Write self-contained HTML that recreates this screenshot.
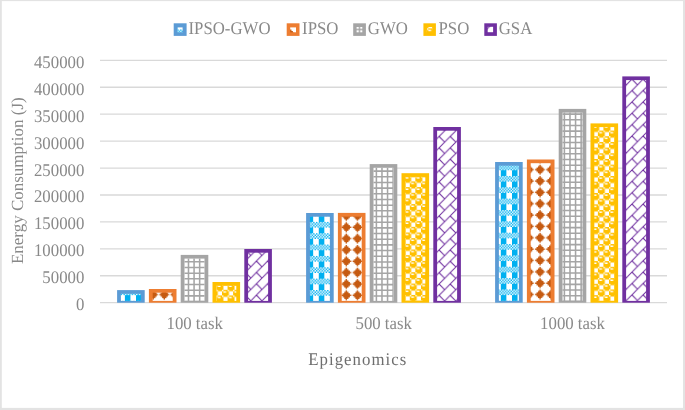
<!DOCTYPE html>
<html lang="en"><head><meta charset="utf-8"><title>Epigenomics energy consumption</title>
<style>html,body{margin:0;padding:0;background:#fff}svg{display:block}text{font-family:"Liberation Serif",serif;font-size:16.8px;text-rendering:geometricPrecision;fill:#898989}</style></head><body>
<svg width="685" height="410" viewBox="0 0 685 410">
<defs>
<pattern id="plaid" width="8" height="8" patternUnits="userSpaceOnUse" patternTransform="scale(1.395 1.4187)"><rect width="8" height="8" fill="#fff"/><g fill="#00B0F0"><rect x="0" y="0" width="1" height="1"/><rect x="2" y="0" width="1" height="1"/><rect x="4" y="0" width="1" height="1"/><rect x="6" y="0" width="1" height="1"/><rect x="1" y="1" width="1" height="1"/><rect x="3" y="1" width="1" height="1"/><rect x="5" y="1" width="1" height="1"/><rect x="7" y="1" width="1" height="1"/><rect x="0" y="2" width="1" height="1"/><rect x="2" y="2" width="1" height="1"/><rect x="4" y="2" width="1" height="1"/><rect x="6" y="2" width="1" height="1"/><rect x="1" y="3" width="1" height="1"/><rect x="3" y="3" width="1" height="1"/><rect x="5" y="3" width="1" height="1"/><rect x="7" y="3" width="1" height="1"/><rect x="0" y="4" width="4" height="4"/></g></pattern>
<pattern id="diamond" width="8" height="8" patternUnits="userSpaceOnUse" patternTransform="scale(1.395 1.4187)"><rect width="8" height="8" fill="#fff"/><path d="M4 0L4 1L5 1L5 2L6 2L6 3L7 3L7 4L6 4L6 5L5 5L5 6L4 6L4 7L3 7L3 6L2 6L2 5L1 5L1 4L0 4L0 3L1 3L1 2L2 2L2 1L3 1L3 0Z" fill="#C55A11"/></pattern>
<pattern id="grid" width="4" height="4" patternUnits="userSpaceOnUse" patternTransform="scale(1.395 1.4187)"><rect width="4" height="4" fill="#fff"/><rect width="4" height="1" fill="#A5A5A5"/><rect width="1" height="4" fill="#A5A5A5"/></pattern>
<pattern id="sphere" width="8" height="8" patternUnits="userSpaceOnUse" patternTransform="scale(1.395 1.4187)"><rect width="8" height="8" fill="#FFC000"/><g fill="#fff"><rect x="1" y="1" width="3" height="3"/><rect x="5" y="1" width="2" height="1"/><rect x="5" y="5" width="3" height="3"/><rect x="1" y="5" width="2" height="1"/><rect x="0" y="0" width="1" height="1"/><rect x="4" y="0" width="1" height="1"/><rect x="0" y="4" width="1" height="1"/><rect x="4" y="4" width="1" height="1"/></g></pattern>
<pattern id="brick" width="8" height="8" patternUnits="userSpaceOnUse" patternTransform="scale(1.395 1.4187)"><rect width="8" height="8" fill="#fff"/><path d="M-1 9L9 -1M-9 9L1 -1M7 9L17 -1M4 4L9 9" stroke="#7030A0" stroke-width="0.72" fill="none"/></pattern>
<pattern id="b0" href="#plaid" x="81.5054" y="204.0529"/>
<pattern id="o0" href="#diamond" x="114.2652" y="204.1938"/>
<pattern id="g0" href="#grid" x="134.6237" y="184.0352"/>
<pattern id="y0" href="#sphere" x="155.1254" y="204.2643"/>
<pattern id="p0" href="#brick" x="179.8208" y="180.0176"/>
<pattern id="b1" href="#plaid" x="220.5018" y="156.4053"/>
<pattern id="o1" href="#diamond" x="244.8029" y="156.6872"/>
<pattern id="g1" href="#grid" x="269.319" y="120.1057"/>
<pattern id="y1" href="#sphere" x="289.7491" y="127.8943"/>
<pattern id="p1" href="#brick" x="318.7527" y="92.1938"/>
<pattern id="b2" href="#plaid" x="358.9964" y="116.0176"/>
<pattern id="o2" href="#diamond" x="383.6129" y="116.1233"/>
<pattern id="g2" href="#grid" x="404.086" y="79.9295"/>
<pattern id="y2" href="#sphere" x="432.5735" y="92.0529"/>
<pattern id="p2" href="#brick" x="448.9892" y="59.8414"/>
<pattern id="bL" href="#plaid" x="123.1541" y="20.793"/>
<pattern id="oL" href="#diamond" x="203.9427" y="19.8767"/>
<pattern id="gL" href="#grid" x="257.1326" y="20.2291"/>
<pattern id="yL" href="#sphere" x="306.0215" y="16"/>
<pattern id="pL" href="#brick" x="342.9391" y="18.6079"/>
</defs>
<rect width="685" height="410" fill="#fff"/>
<g fill="#e3e3e3"><rect width="685" height="1.1"/><rect width="1.8" height="410"/><rect x="683" width="2" height="410"/><rect y="407.9" width="685" height="2.1"/></g>
<g stroke="#d9d9d9" stroke-width="1.3">
<line x1="100" x2="667" y1="302.7" y2="302.7"/>
<line x1="100" x2="667" y1="275.77" y2="275.77"/>
<line x1="100" x2="667" y1="248.84" y2="248.84"/>
<line x1="100" x2="667" y1="221.91" y2="221.91"/>
<line x1="100" x2="667" y1="194.98" y2="194.98"/>
<line x1="100" x2="667" y1="168.05" y2="168.05"/>
<line x1="100" x2="667" y1="141.12" y2="141.12"/>
<line x1="100" x2="667" y1="114.19" y2="114.19"/>
<line x1="100" x2="667" y1="87.26" y2="87.26"/>
<line x1="100" x2="667" y1="60.33" y2="60.33"/>
</g>
<rect x="117.1" y="290.1" width="27.6" height="12.6" fill="#5B9BD5"/>
<rect x="120.9" y="293.8" width="20" height="7.1" fill="url(#b0)"/>
<rect x="148.9" y="289" width="27.6" height="13.7" fill="#ED7D31"/>
<rect x="152.7" y="292.7" width="20" height="8.2" fill="url(#o0)"/>
<rect x="180.7" y="254.9" width="27.6" height="47.8" fill="#A5A5A5"/>
<rect x="184.5" y="258.6" width="20" height="42.3" fill="#fff"/><path d="M187.73 258.6H189.27V300.9H187.73ZM193.31 258.6H194.85V300.9H193.31ZM198.89 258.6H200.43V300.9H198.89ZM184.5 261.03H204.5V262.59H184.5ZM184.5 266.71H204.5V268.26H184.5ZM184.5 272.38H204.5V273.94H184.5ZM184.5 278.06H204.5V279.61H184.5ZM184.5 283.73H204.5V285.29H184.5ZM184.5 289.41H204.5V290.96H184.5ZM184.5 295.08H204.5V296.64H184.5ZM184.5 300.76H204.5V300.9H184.5Z" fill="#A5A5A5"/>
<rect x="212.5" y="282" width="27.6" height="20.7" fill="#FFC000"/>
<rect x="216.3" y="285.7" width="20" height="15.2" fill="url(#y0)"/>
<rect x="244.3" y="249" width="27.6" height="53.7" fill="#7030A0"/>
<rect x="248.1" y="252.7" width="20" height="48.2" fill="url(#p0)"/>
<rect x="306.1" y="213" width="27.6" height="89.7" fill="#5B9BD5"/>
<rect x="309.9" y="216.7" width="20" height="84.2" fill="url(#b1)"/>
<rect x="337.9" y="212.9" width="27.6" height="89.8" fill="#ED7D31"/>
<rect x="341.7" y="216.6" width="20" height="84.3" fill="url(#o1)"/>
<rect x="369.7" y="164.1" width="27.6" height="138.6" fill="#A5A5A5"/>
<rect x="373.5" y="167.8" width="20" height="133.1" fill="#fff"/><path d="M375.63 167.8H377.16V300.9H375.63ZM381.21 167.8H382.74V300.9H381.21ZM386.79 167.8H388.32V300.9H386.79ZM392.37 167.8H393.5V300.9H392.37ZM373.5 170.33H393.5V171.89H373.5ZM373.5 176.01H393.5V177.56H373.5ZM373.5 181.68H393.5V183.24H373.5ZM373.5 187.36H393.5V188.91H373.5ZM373.5 193.03H393.5V194.59H373.5ZM373.5 198.71H393.5V200.26H373.5ZM373.5 204.38H393.5V205.94H373.5ZM373.5 210.06H393.5V211.61H373.5ZM373.5 215.73H393.5V217.29H373.5ZM373.5 221.41H393.5V222.96H373.5ZM373.5 227.08H393.5V228.64H373.5ZM373.5 232.75H393.5V234.31H373.5ZM373.5 238.43H393.5V239.99H373.5ZM373.5 244.11H393.5V245.66H373.5ZM373.5 249.78H393.5V251.34H373.5ZM373.5 255.46H393.5V257.01H373.5ZM373.5 261.13H393.5V262.69H373.5ZM373.5 266.81H393.5V268.36H373.5ZM373.5 272.48H393.5V274.04H373.5ZM373.5 278.16H393.5V279.71H373.5ZM373.5 283.83H393.5V285.39H373.5ZM373.5 289.5H393.5V291.06H373.5ZM373.5 295.18H393.5V296.74H373.5Z" fill="#A5A5A5"/>
<rect x="401.5" y="173.2" width="27.6" height="129.5" fill="#FFC000"/>
<rect x="405.3" y="176.9" width="20" height="124" fill="url(#y1)"/>
<rect x="433.3" y="127" width="27.6" height="175.7" fill="#7030A0"/>
<rect x="437.1" y="130.7" width="20" height="170.2" fill="url(#p1)"/>
<rect x="495.1" y="162" width="27.6" height="140.7" fill="#5B9BD5"/>
<rect x="498.9" y="165.7" width="20" height="135.2" fill="url(#b2)"/>
<rect x="526.9" y="159.5" width="27.6" height="143.2" fill="#ED7D31"/>
<rect x="530.7" y="163.2" width="20" height="137.7" fill="url(#o2)"/>
<rect x="558.7" y="108.9" width="27.6" height="193.8" fill="#A5A5A5"/>
<rect x="562.5" y="112.6" width="20" height="188.3" fill="#fff"/><path d="M563.63 112.6H565.17V300.9H563.63ZM569.21 112.6H570.75V300.9H569.21ZM574.79 112.6H576.33V300.9H574.79ZM580.37 112.6H581.91V300.9H580.37ZM562.5 113.33H582.5V114.89H562.5ZM562.5 119.01H582.5V120.56H562.5ZM562.5 124.68H582.5V126.24H562.5ZM562.5 130.36H582.5V131.91H562.5ZM562.5 136.03H582.5V137.59H562.5ZM562.5 141.71H582.5V143.26H562.5ZM562.5 147.38H582.5V148.94H562.5ZM562.5 153.06H582.5V154.61H562.5ZM562.5 158.73H582.5V160.29H562.5ZM562.5 164.41H582.5V165.96H562.5ZM562.5 170.08H582.5V171.64H562.5ZM562.5 175.75H582.5V177.31H562.5ZM562.5 181.43H582.5V182.99H562.5ZM562.5 187.11H582.5V188.66H562.5ZM562.5 192.78H582.5V194.34H562.5ZM562.5 198.46H582.5V200.01H562.5ZM562.5 204.13H582.5V205.69H562.5ZM562.5 209.81H582.5V211.36H562.5ZM562.5 215.48H582.5V217.04H562.5ZM562.5 221.16H582.5V222.71H562.5ZM562.5 226.83H582.5V228.39H562.5ZM562.5 232.5H582.5V234.06H562.5ZM562.5 238.18H582.5V239.74H562.5ZM562.5 243.86H582.5V245.41H562.5ZM562.5 249.53H582.5V251.09H562.5ZM562.5 255.21H582.5V256.76H562.5ZM562.5 260.88H582.5V262.44H562.5ZM562.5 266.56H582.5V268.11H562.5ZM562.5 272.23H582.5V273.79H562.5ZM562.5 277.91H582.5V279.46H562.5ZM562.5 283.58H582.5V285.14H562.5ZM562.5 289.25H582.5V290.81H562.5ZM562.5 294.93H582.5V296.49H562.5ZM562.5 300.61H582.5V300.9H562.5Z" fill="#A5A5A5"/>
<rect x="590.5" y="123.4" width="27.6" height="179.3" fill="#FFC000"/>
<rect x="594.3" y="127.1" width="20" height="173.8" fill="url(#y2)"/>
<rect x="622.3" y="76.4" width="27.6" height="226.3" fill="#7030A0"/>
<rect x="626.1" y="80.1" width="20" height="220.8" fill="url(#p2)"/>
<g text-anchor="end">
<text transform="translate(84.3 310.2) scale(1 1.06)">0</text>
<text transform="translate(84.3 283.27) scale(1 1.06)">50000</text>
<text transform="translate(84.3 256.34) scale(1 1.06)">100000</text>
<text transform="translate(84.3 229.41) scale(1 1.06)">150000</text>
<text transform="translate(84.3 202.48) scale(1 1.06)">200000</text>
<text transform="translate(84.3 175.55) scale(1 1.06)">250000</text>
<text transform="translate(84.3 148.62) scale(1 1.06)">300000</text>
<text transform="translate(84.3 121.69) scale(1 1.06)">350000</text>
<text transform="translate(84.3 94.76) scale(1 1.06)">400000</text>
<text transform="translate(84.3 67.83) scale(1 1.06)">450000</text>
</g>
<g text-anchor="middle">
<text transform="translate(194.7 329) scale(1 1.06)">100 task</text>
<text transform="translate(383.7 329) scale(1 1.06)">500 task</text>
<text transform="translate(572.5 329) scale(1 1.06)">1000 task</text>
</g>
<text transform="translate(357.8 364.8) scale(1 1.06)" text-anchor="middle" style="letter-spacing:1.05px;fill:#6e6e6e">Epigenomics</text>
<text transform="translate(23.2 180.7) rotate(-90)" text-anchor="middle" style="font-size:17px">Energy Consumption (J)</text>
<rect x="173.7" y="23.3" width="12.9" height="12.6" fill="#5B9BD5"/>
<rect x="177.4" y="27.4" width="5.2" height="4.95" fill="url(#bL)"/>
<text transform="translate(188.5 34.4) scale(1 1.06)">IPSO-GWO</text>
<rect x="286.7" y="23.3" width="12.8" height="12.6" fill="#ED7D31"/>
<rect x="290.2" y="27.4" width="5.8" height="4.95" fill="url(#oL)"/>
<text transform="translate(302.1 34.4) scale(1 1.06)">IPSO</text>
<rect x="353.2" y="23.3" width="12.7" height="12.6" fill="#A5A5A5"/>
<rect x="356.6" y="27" width="5.7" height="5.3" fill="url(#gL)"/>
<text transform="translate(367.8 34.4) scale(1 1.06)">GWO</text>
<rect x="423.4" y="23.3" width="12.5" height="12.6" fill="#FFC000"/>
<rect x="426.9" y="27.1" width="5.4" height="5.2" fill="url(#yL)"/>
<text transform="translate(438.5 34.4) scale(1 1.06)">PSO</text>
<rect x="484.3" y="23.3" width="12.6" height="12.6" fill="#7030A0"/>
<rect x="487.7" y="26.8" width="5.4" height="5.4" fill="url(#pL)"/>
<text transform="translate(498.7 34.4) scale(1 1.06)">GSA</text>
</svg></body></html>
